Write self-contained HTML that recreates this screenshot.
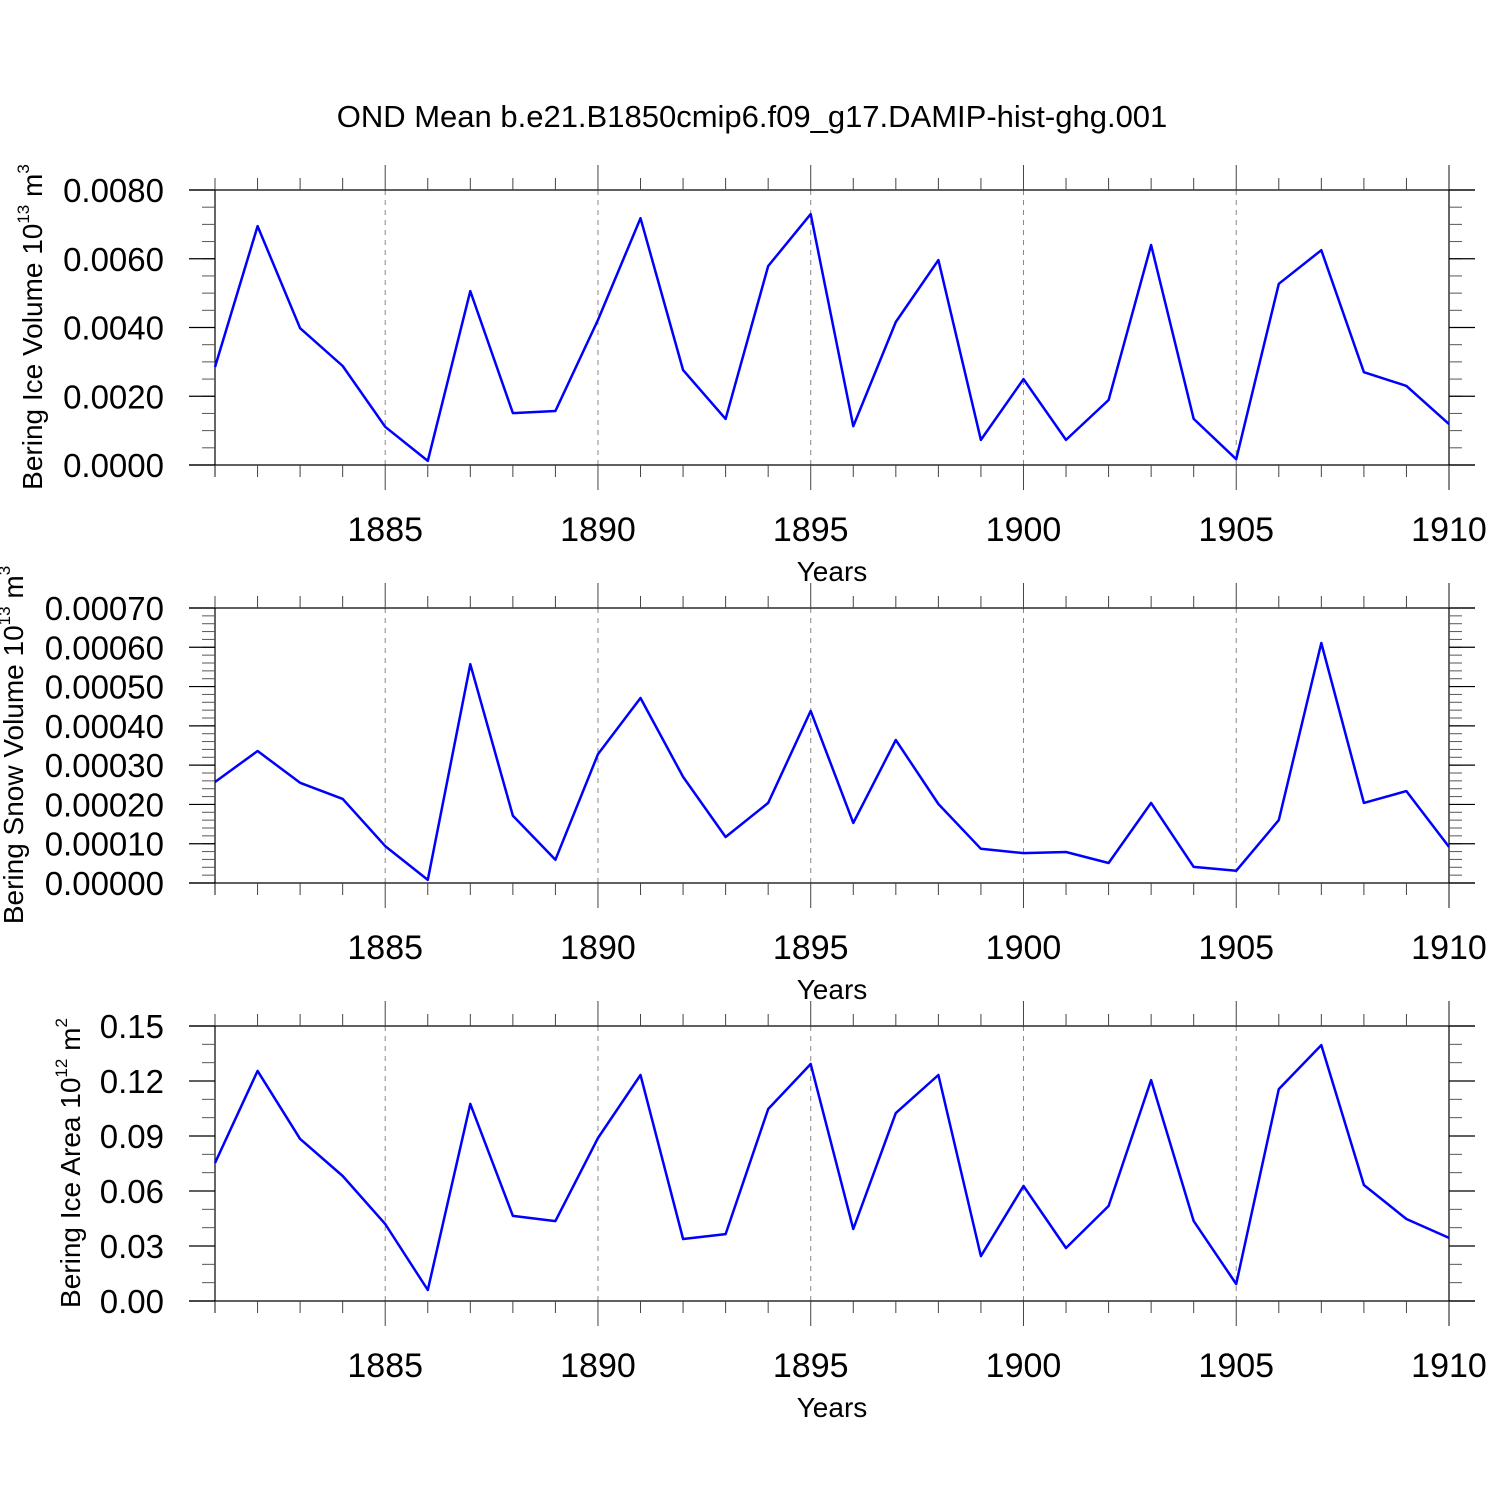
<!DOCTYPE html>
<html><head><meta charset="utf-8"><style>
html,body{margin:0;padding:0;background:#fff}
svg{display:block;font-family:"Liberation Sans",Arial,sans-serif}
</style></head><body>
<svg id="chart" width="1500" height="1500" viewBox="0 0 1500 1500">
<text x="752" y="127" font-size="31" text-anchor="middle">OND Mean b.e21.B1850cmip6.f09_g17.DAMIP-hist-ghg.001</text>
</svg>
<script>
const years = [1881,1882,1883,1884,1885,1886,1887,1888,1889,1890,1891,1892,1893,1894,1895,1896,1897,1898,1899,1900,1901,1902,1903,1904,1905,1906,1907,1908,1909,1910];
const iceVolume = [0.00285,0.00695,0.00398,0.00288,0.00111,0.00012,0.00506,0.00151,0.00157,0.00422,0.00718,0.00276,0.00134,0.00579,0.0073,0.00113,0.00416,0.00596,0.00073,0.0025,0.00073,0.00189,0.0064,0.00134,0.00017,0.00527,0.00625,0.0027,0.0023,0.00119];
const snowVolume = [0.000257,0.000336,0.000255,0.000214,0.000094,0.000008,0.000557,0.000171,0.000059,0.000328,0.000471,0.00027,0.000117,0.000204,0.000438,0.000153,0.000364,0.000201,0.000087,0.000076,0.000079,0.000051,0.000204,0.000041,0.000031,0.00016,0.000611,0.000204,0.000234,0.000092];
const iceArea = [0.0753,0.1255,0.0884,0.0682,0.042,0.006,0.1075,0.0464,0.0436,0.0889,0.1233,0.0338,0.0365,0.1047,0.1293,0.0393,0.1025,0.1233,0.0245,0.0627,0.0289,0.0518,0.1205,0.0436,0.0093,0.1156,0.1396,0.0633,0.0447,0.0344];
const xTickLabels = ["1885","1890","1895","1900","1905","1910"];
const iceVolTicks = ["0.0000","0.0020","0.0040","0.0060","0.0080"];
const snowVolTicks = ["0.00000","0.00010","0.00020","0.00030","0.00040","0.00050","0.00060","0.00070"];
const iceAreaTicks = ["0.00","0.03","0.06","0.09","0.12","0.15"];

const NS = "http://www.w3.org/2000/svg";
const svg = document.getElementById('chart');
const X0 = 215, X1 = 1449, YEAR0 = 1881, YEAR1 = 1910, RIGHT = 1475, LEFT = 189;
function xs(yr){ return X0 + (yr - YEAR0) * (X1 - X0) / (YEAR1 - YEAR0); }
function mk(tag, attrs, parent){ const e = document.createElementNS(NS, tag); for (const k in attrs) e.setAttribute(k, attrs[k]); (parent||svg).appendChild(e); return e; }

function panel(name, top, max, majorStep, minorStep, ticks, data, titleHtml, titleX){
  const bot = top + 275;
  const ys = v => bot - v / max * 275;
  const g = mk('g', {});
  
  
  xTickLabels.forEach(l => {
    const yr = +l; if (yr >= YEAR1) return;
    const gl = mk('line', {x1: xs(yr), x2: xs(yr), y1: top, y2: bot, stroke: '#888', 'stroke-width': 1, 'stroke-dasharray': '5,5'}, g);
    
    
  });
  mk('line', {x1: LEFT, x2: RIGHT, y1: top, y2: top, stroke: '#000', 'stroke-width': 1.2}, g);
  mk('line', {x1: LEFT, x2: RIGHT, y1: bot, y2: bot, stroke: '#000', 'stroke-width': 1.2}, g);
  mk('line', {x1: X0, x2: X0, y1: top, y2: bot + 12, stroke: '#000', 'stroke-width': 1.2}, g);
  mk('line', {x1: X1, x2: X1, y1: top - 25, y2: bot + 25, stroke: '#000', 'stroke-width': 1.2}, g);
  years.forEach(yr => {
    const major = xTickLabels.includes(String(yr));
    const len = major ? 25 : 12;
    mk('line', {x1: xs(yr), x2: xs(yr), y1: top - len, y2: top, stroke: '#444', 'stroke-width': 1}, g);
    mk('line', {x1: xs(yr), x2: xs(yr), y1: bot, y2: bot + len, stroke: '#444', 'stroke-width': 1}, g);
  });
  xTickLabels.forEach(l => {
    const t = mk('text', {x: xs(+l), y: bot + 76, 'font-size': 34, 'text-anchor': 'middle'}, g);
    t.textContent = l;
    
    
  });
  const xt = mk('text', {x: 832, y: bot + 116, 'font-size': 28, 'text-anchor': 'middle'}, g);
  xt.textContent = 'Years';
  
  
  const nMinor = Math.round(max / minorStep);
  for (let i = 0; i <= nMinor; i++) {
    const y = ys(i * minorStep);
    mk('line', {x1: X0 - 13, x2: X0, y1: y, y2: y, stroke: '#555', 'stroke-width': 1}, g);
    mk('line', {x1: X1, x2: X1 + 13, y1: y, y2: y, stroke: '#555', 'stroke-width': 1}, g);
  }
  ticks.forEach((l, i) => {
    const y = ys(i * majorStep);
    mk('line', {x1: LEFT, x2: X0, y1: y, y2: y, stroke: '#000', 'stroke-width': 1.2}, g);
    mk('line', {x1: X1, x2: RIGHT, y1: y, y2: y, stroke: '#000', 'stroke-width': 1.2}, g);
    const t = mk('text', {x: 164, y: y + 12, 'font-size': 33, 'text-anchor': 'end'}, g);
    t.textContent = l;
    
    
  });
  const yt = mk('text', {x: 0, y: 0, 'font-size': 28, 'text-anchor': 'middle', transform: 'translate(' + titleX + ',' + (top + 137) + ') rotate(-90)'}, g);
  yt.innerHTML = titleHtml;
  
  
  const pts = years.map((yr, i) => xs(yr).toFixed(1) + ',' + ys(data[i]).toFixed(1)).join(' ');
  const pl = mk('polyline', {points: pts, fill: 'none', stroke: '#0000ff', 'stroke-width': 2.5, 'stroke-linejoin': 'round'}, g);
  
  
}
panel('ice-volume', 190, 0.008, 0.002, 0.0005, iceVolTicks, iceVolume,
  'Bering Ice Volume 10<tspan font-size="17" dy="-13">13</tspan><tspan dy="13"> m</tspan><tspan font-size="17" dy="-13">3</tspan>', 42);
panel('snow-volume', 608, 0.0007, 0.0001, 0.00002, snowVolTicks, snowVolume,
  'Bering Snow Volume 10<tspan font-size="17" dy="-13">13</tspan><tspan dy="13"> m</tspan><tspan font-size="17" dy="-13">3</tspan>', 23);
panel('ice-area', 1026, 0.15, 0.03, 0.01, iceAreaTicks, iceArea,
  'Bering Ice Area 10<tspan font-size="17" dy="-13">12</tspan><tspan dy="13"> m</tspan><tspan font-size="17" dy="-13">2</tspan>', 80);
</script>
</body></html>
